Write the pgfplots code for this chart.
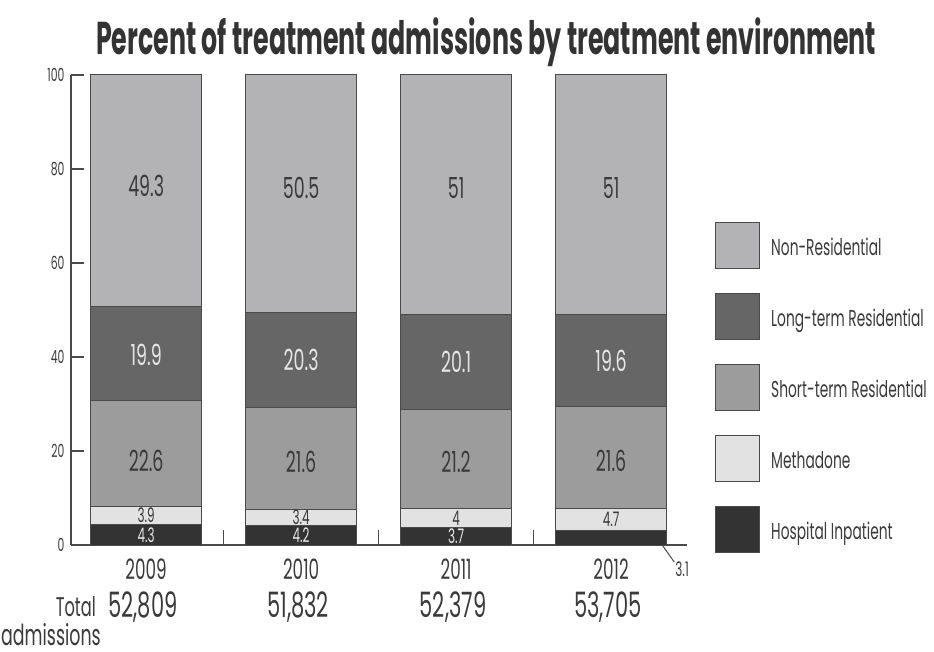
\documentclass[border=0pt]{standalone}
\usepackage{fontspec}
\setmainfont{Poppins}[FakeStretch=0.6]
\newfontfamily\titlefont{Poppins}[FakeStretch=0.55]
\usepackage{pgfplots}
\pgfplotsset{compat=1.18}
\usepackage{pgfplotstable}

\definecolor{nonres}{HTML}{B3B3B5}
\definecolor{longres}{HTML}{666666}
\definecolor{shortres}{HTML}{9C9C9C}
\definecolor{methadone}{HTML}{E2E2E2}
\definecolor{hospital}{HTML}{333333}
\definecolor{edgegray}{HTML}{4A4A4A}
\definecolor{txt}{HTML}{3A3A3A}
\definecolor{lighttxt}{HTML}{E6E6E6}

% percent of admissions per treatment environment, 0 = 2009 ... 3 = 2012
\pgfplotstableread{
x hospital methadone shortres longres nonres
0 4.3 3.9 22.6 19.9 49.3
1 4.2 3.4 21.6 20.3 50.5
2 3.7 4.0 21.2 20.1 51.0
3 3.1 4.7 21.6 19.6 51.0
}\admissions

\tikzset{
  bigval/.style={inner sep=0pt, font=\fontsize{29bp}{29bp}\selectfont, text=#1},
  smallval/.style={inner sep=0pt, font=\fontsize{20bp}{20bp}\selectfont, text=#1},
  total/.style={inner sep=0pt, font=\fontsize{35bp}{35bp}\selectfont, text=txt},
}

\begin{document}
\begin{tikzpicture}
\path[use as bounding box] (-71bp,-107bp) rectangle (863bp,545bp);
\begin{axis}[
  scale only axis, width=616bp, height=470bp,
  ybar stacked, bar width=0.72,
  legend image code/.code={\draw[#1] (0bp,-21bp) rectangle (44bp,25bp);},
  xmin=-0.485, xmax=3.49, ymin=0, ymax=100,
  axis x line*=bottom, axis y line*=left,
  axis line style={edgegray, line width=1.3bp},
  tick align=inside,
  xtick={0,1,2,3}, xticklabels={2009,2010,2011,2012},
  minor xtick={0.5,1.5,2.5,3.5},
  major x tick style={draw=none},
  minor tick length=15bp,
  minor x tick style={edgegray, line width=1.3bp},
  ytick={0,20,...,100},
  major tick length=13bp,
  major y tick style={edgegray, line width=1.3bp},
  /pgf/number format/assume math mode=true,
  yticklabel style={font=\fontsize{18bp}{18bp}\selectfont, text=txt, xshift=-3bp},
  xticklabel style={font=\fontsize{28bp}{28bp}\selectfont, text=txt, yshift=-10bp},
  reverse legend,
  legend cell align=left,
  legend style={draw=none, fill=none, at={(1.0455,0.687)}, anchor=north west,
    inner sep=0pt, row sep=24bp, column sep=9bp,
    font=\fontsize{23bp}{23bp}\selectfont, text=txt},
]
\addplot[fill=hospital, draw=edgegray, line width=1bp] table[x=x, y=hospital] {\admissions};
\addlegendentry{Hospital Inpatient}
\addplot[fill=methadone, draw=edgegray, line width=1bp] table[x=x, y=methadone] {\admissions};
\addlegendentry{Methadone}
\addplot[fill=shortres, draw=edgegray, line width=1bp] table[x=x, y=shortres] {\admissions};
\addlegendentry{Short-term Residential}
\addplot[fill=longres, draw=edgegray, line width=1bp] table[x=x, y=longres] {\admissions};
\addlegendentry{Long-term Residential}
\addplot[fill=nonres, draw=edgegray, line width=1bp] table[x=x, y=nonres] {\admissions};
\addlegendentry{Non-Residential}

% label position inside each segment
\coordinate (n0) at (axis cs:0,76.5);
\coordinate (l0) at (axis cs:0,40.5);
\coordinate (s0) at (axis cs:0,18.0);
\coordinate (m0) at (axis cs:0,6.3);
\coordinate (h0) at (axis cs:0,2.15);
\coordinate (n1) at (axis cs:1,76.0);
\coordinate (l1) at (axis cs:1,39.3);
\coordinate (s1) at (axis cs:1,17.6);
\coordinate (m1) at (axis cs:1,5.95);
\coordinate (h1) at (axis cs:1,2.05);
\coordinate (n2) at (axis cs:2,76.0);
\coordinate (l2) at (axis cs:2,38.95);
\coordinate (s2) at (axis cs:2,17.6);
\coordinate (m2) at (axis cs:2,5.75);
\coordinate (h2) at (axis cs:2,1.8);
\coordinate (n3) at (axis cs:3,76.0);
\coordinate (l3) at (axis cs:3,39.2);
\coordinate (s3) at (axis cs:3,17.8);
\coordinate (m3) at (axis cs:3,5.45);
% lower right corner of the 2012 bar, and the year positions on the axis
\coordinate (h3) at (axis cs:3.33,0);
\coordinate (t0) at (axis cs:-0.02,0);
\coordinate (t1) at (axis cs:0.98,0);
\coordinate (t2) at (axis cs:1.98,0);
\coordinate (t3) at (axis cs:2.98,0);
\end{axis}

\node[bigval=txt]        at (n0) {49.3};
\node[bigval=lighttxt]   at (l0) {19.9};
\node[bigval=txt]        at (s0) {22.6};
\node[smallval=txt]      at (m0) {3.9};
\node[smallval=lighttxt] at (h0) {4.3};

\node[bigval=txt]        at (n1) {50.5};
\node[bigval=lighttxt]   at (l1) {20.3};
\node[bigval=txt]        at (s1) {21.6};
\node[smallval=txt]      at (m1) {3.4};
\node[smallval=lighttxt] at (h1) {4.2};

\node[bigval=txt]        at (n2) {51};
\node[bigval=lighttxt]   at (l2) {20.1};
\node[bigval=txt]        at (s2) {21.2};
\node[smallval=txt]      at (m2) {4};
\node[smallval=lighttxt] at (h2) {3.7};

\node[bigval=txt]        at (n3) {51};
\node[bigval=lighttxt]   at (l3) {19.6};
\node[bigval=txt]        at (s3) {21.6};
\node[smallval=txt]      at (m3) {4.7};

% the 2012 inpatient share is too thin to hold its label
\draw[edgegray, line width=1bp] (h3) -- ++(12bp,-17bp);
\node[smallval=txt, anchor=west] at ([xshift=13bp,yshift=-24bp]h3) {3.1};

% total admissions under each year
\node[total] at ([yshift=-62bp]t0) {52,809};
\node[total] at ([yshift=-62bp]t1) {51,832};
\node[total] at ([yshift=-62bp]t2) {52,379};
\node[total] at ([yshift=-62bp]t3) {53,705};

\node[font=\fontsize{27bp}{27bp}\selectfont, text=txt, anchor=east, inner sep=0pt] at (25bp,-62bp) {Total};
\node[font=\fontsize{29bp}{29bp}\selectfont, text=txt, anchor=west, inner sep=0pt] at (-70bp,-90bp) {admissions};

\node[font={\titlefont\bfseries\fontsize{46bp}{46bp}\selectfont}, text=hospital] at (415bp,503bp)
  {Percent of treatment admissions by treatment environment};
\end{tikzpicture}
\end{document}
